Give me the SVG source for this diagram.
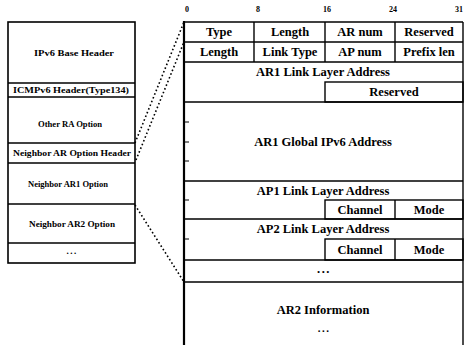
<svg xmlns="http://www.w3.org/2000/svg" width="465" height="345" viewBox="0 0 465 345">
  <style>
    .frame { fill: none; stroke: #000; stroke-width: 1.6; }
    .rule { stroke: #000; stroke-width: 1.4; fill: none; }
    .tick { stroke: #000; stroke-width: 1; }
    .dots { stroke: #000; stroke-width: 1.6; stroke-dasharray: 1.6 2.4; fill: none; }
    .lbl { font-family: "Liberation Serif", "Times New Roman", serif; font-weight: bold; fill: #000; text-anchor: middle; }
    .small { font-size: 9px; }
    .field { font-size: 12.5px; }
    .bit { font-size: 8px; }
    .ell { letter-spacing: 1.5px; }
    .tail { font-size: 11px; }
  </style>
  <rect width="465" height="345" fill="#fff"/>

  <!-- Router advertisement message stack -->
  <g id="ra-message">
    <rect class="frame" x="8" y="22" width="127" height="241"/>
    <g id="ipv6-base-header">
      <text class="lbl small" x="74" y="56" textLength="80" lengthAdjust="spacingAndGlyphs">IPv6 Base Header</text>
    </g>
    <g id="icmpv6-header">
      <line class="rule" x1="8" y1="83" x2="135" y2="83"/>
      <text class="lbl small" x="71" y="93" textLength="116" lengthAdjust="spacingAndGlyphs">ICMPv6 Header(Type134)</text>
    </g>
    <g id="other-ra-option">
      <line class="rule" x1="8" y1="97" x2="135" y2="97"/>
      <text class="lbl small" x="70" y="127" textLength="64" lengthAdjust="spacingAndGlyphs">Other RA Option</text>
    </g>
    <g id="neighbor-ar-option-header">
      <line class="rule" x1="8" y1="143" x2="135" y2="143"/>
      <text class="lbl small" x="72" y="156" textLength="118" lengthAdjust="spacingAndGlyphs">Neighbor AR Option Header</text>
    </g>
    <g id="neighbor-ar1-option">
      <line class="rule" x1="8" y1="163" x2="135" y2="163"/>
      <text class="lbl small" x="68" y="187" textLength="80" lengthAdjust="spacingAndGlyphs">Neighbor AR1 Option</text>
    </g>
    <g id="neighbor-ar2-option">
      <line class="rule" x1="8" y1="204" x2="135" y2="204"/>
      <text class="lbl small" x="72" y="227" textLength="86" lengthAdjust="spacingAndGlyphs">Neighbor AR2 Option</text>
    </g>
    <g id="more-options">
      <line class="rule" x1="8" y1="243" x2="135" y2="243"/>
      <text class="lbl small ell" x="72" y="254">...</text>
    </g>
  </g>

  <!-- Bit positions -->
  <g id="bit-scale">
    <text class="lbl bit" x="187" y="12">0</text>
    <text class="lbl bit" x="258" y="12">8</text>
    <text class="lbl bit" x="327" y="12">16</text>
    <text class="lbl bit" x="393" y="12">24</text>
    <text class="lbl bit" x="459" y="12">31</text>
  </g>

  <!-- Neighbor AR option layout -->
  <g id="option-format">
    <line x1="184" y1="21" x2="184" y2="345" stroke="#000" stroke-width="2.2"/>
    <line class="rule" x1="463" y1="22" x2="463" y2="345"/>
    <line class="rule" x1="184" y1="22" x2="463" y2="22"/>

    <g id="row-type">
      <line class="rule" x1="254" y1="22" x2="254" y2="62"/>
      <line class="rule" x1="325" y1="22" x2="325" y2="62"/>
      <line class="rule" x1="395" y1="22" x2="395" y2="62"/>
      <line class="rule" x1="184" y1="42" x2="463" y2="42"/>
      <text class="lbl field" x="219" y="36">Type</text>
      <text class="lbl field" x="290" y="36">Length</text>
      <text class="lbl field" x="360" y="36">AR num</text>
      <text class="lbl field" x="429" y="36">Reserved</text>
    </g>
    <g id="row-length">
      <line class="rule" x1="184" y1="62" x2="463" y2="62"/>
      <text class="lbl field" x="219" y="56">Length</text>
      <text class="lbl field" x="290" y="56">Link Type</text>
      <text class="lbl field" x="360" y="56">AP num</text>
      <text class="lbl field" x="429" y="56">Prefix len</text>
    </g>
    <g id="ar1-link-layer-address">
      <text class="lbl field" x="323" y="76">AR1 Link Layer Address</text>
      <rect class="rule" x="325" y="82" width="138" height="20"/>
      <text class="lbl field" x="394" y="96">Reserved</text>
      <line class="rule" x1="184" y1="102" x2="463" y2="102"/>
    </g>
    <g id="ar1-global-ipv6-address">
      <text class="lbl field" x="323" y="146">AR1 Global IPv6 Address</text>
      <line class="rule" x1="184" y1="181" x2="463" y2="181"/>
    </g>
    <g id="ap1-link-layer-address">
      <text class="lbl field" x="323" y="195">AP1 Link Layer Address</text>
      <rect class="rule" x="325" y="200" width="138" height="19"/>
      <line class="rule" x1="395" y1="200" x2="395" y2="219"/>
      <text class="lbl field" x="360" y="214">Channel</text>
      <text class="lbl field" x="429" y="214">Mode</text>
      <line class="rule" x1="184" y1="219" x2="463" y2="219"/>
    </g>
    <g id="ap2-link-layer-address">
      <text class="lbl field" x="323" y="233">AP2 Link Layer Address</text>
      <rect class="rule" x="325" y="239" width="138" height="21"/>
      <line class="rule" x1="395" y1="239" x2="395" y2="260"/>
      <text class="lbl field" x="360" y="254">Channel</text>
      <text class="lbl field" x="429" y="254">Mode</text>
      <line class="rule" x1="184" y1="260" x2="463" y2="260"/>
    </g>
    <g id="more-aps">
      <text class="lbl field ell" x="324" y="273">...</text>
      <line class="rule" x1="184" y1="282" x2="463" y2="282"/>
    </g>
    <g id="ar2-information">
      <text class="lbl field" x="323" y="314">AR2 Information</text>
      <text class="lbl tail ell" x="324" y="332">...</text>
    </g>

    <!-- 32-bit word marks along the left edge -->
    <g id="word-marks">
      <line class="tick" x1="185" y1="122" x2="189" y2="122"/>
      <line class="tick" x1="185" y1="142" x2="189" y2="142"/>
      <line class="tick" x1="185" y1="161" x2="189" y2="161"/>
      <line class="tick" x1="185" y1="200" x2="189" y2="200"/>
      <line class="tick" x1="185" y1="239" x2="189" y2="239"/>
    </g>
  </g>

  <!-- Expansion connectors -->
  <g id="connectors">
    <line class="dots" x1="135" y1="143" x2="184" y2="22"/>
    <line class="dots" x1="136" y1="160" x2="184" y2="42"/>
    <line class="dots" x1="135" y1="205" x2="184" y2="282"/>
  </g>
</svg>
